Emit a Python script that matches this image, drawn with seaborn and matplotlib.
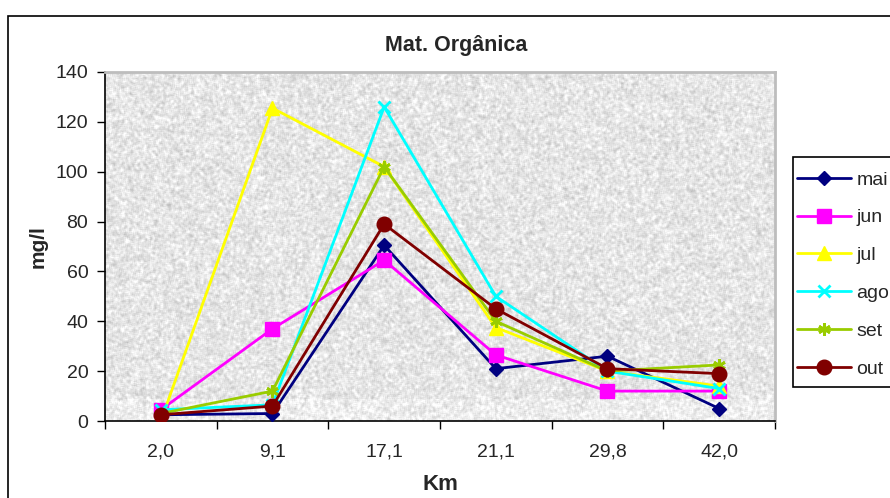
import numpy as np
import pandas as pd
import matplotlib
matplotlib.use("Agg")
import matplotlib.pyplot as plt
from matplotlib.patches import Rectangle
from matplotlib.lines import Line2D
import seaborn as sns

# Distance along the river (km) and monthly organic matter (mg/l)
km_labels = ["2,0", "9,1", "17,1", "21,1", "29,8", "42,0"]
months = ["mai", "jun", "jul", "ago", "set", "out"]
mai = [2.5, 3, 70.5, 21, 26, 5]
jun = [4.5, 37, 64.5, 26.5, 12, 12]
jul = [0, 125.5, 102, 37.5, 20, 14]
ago = [4.5, 6.5, 126, 50, 20, 13]
set_ = [3, 12, 102, 40, 20, 22.5]
out = [2.5, 6, 79, 45, 21, 19]
series = [mai, jun, jul, ago, set_, out]

colors = ["#000080", "#FF00FF", "#FFFF00", "#00FFFF", "#99CC00", "#800000"]
markers = ["D", "s", "^", "x", (6, 2, 0), "o"]
msizes = [7.5, 10, 9.5, 9, 9, 10.5]
medges = [1, 1, 1, 2, 2, 1]

df = pd.DataFrame({
    "km": np.tile(np.arange(len(km_labels)), len(months)),
    "valor": np.concatenate(series),
    "mes": np.repeat(months, len(km_labels)),
})

sns.set_theme(style="white")
plt.rcParams["font.family"] = ["Liberation Sans", "DejaVu Sans"]

fig = plt.figure(figsize=(8.9, 4.98), dpi=100)
ax = fig.add_axes([105 / 890, 1 - 421 / 498, 670 / 890, 349 / 498])

# granite-like grey texture for the plot area
rng = np.random.default_rng(7)
noise = rng.random((350, 670))
k = 1
pad = np.pad(noise, k, mode="wrap")
blur = np.zeros_like(noise)
for dy in range(-k, k + 1):
    for dx in range(-k, k + 1):
        blur += pad[k + dy:k + dy + noise.shape[0], k + dx:k + dx + noise.shape[1]]
blur /= (2 * k + 1) ** 2
blur = (blur - blur.mean()) / blur.std()
tex = np.clip(0.9 + 0.04 * blur, 0.72, 1.0)
tex[-22:, :] = np.clip(tex[-22:, :] + 0.03, 0, 1.0)
ax.imshow(tex, cmap="gray", vmin=0, vmax=1, extent=(-0.5, 5.5, 0, 140),
          aspect="auto", zorder=0, interpolation="bilinear")

for mes, c, m, ms, mew in zip(months, colors, markers, msizes, medges):
    sns.lineplot(data=df[df["mes"] == mes], x="km", y="valor",
                 color=c, marker=m, markersize=ms, markeredgewidth=mew,
                 markerfacecolor=c, markeredgecolor=c,
                 linewidth=2, legend=False, ax=ax, zorder=3)

ax.set_xlim(-0.5, 5.5)
ax.set_ylim(0, 140)
ax.set_yticks(np.arange(0, 141, 20))
ax.set_xticks(np.arange(len(km_labels)))
ax.set_xticklabels(km_labels)
ax.set_xticks(np.arange(-0.5, 6, 1), minor=True)
ax.tick_params(axis="x", which="major", length=0, labelsize=14, pad=16)
ax.tick_params(axis="x", which="minor", length=6, width=1, color="black", direction="out")
ax.tick_params(axis="y", which="major", length=6, width=1, color="black",
               direction="out", labelsize=14, pad=6)
ax.tick_params(left=True, bottom=True, which="both")

for side in ["left", "bottom"]:
    ax.spines[side].set_color("black")
    ax.spines[side].set_linewidth(1.2)
for side in ["top", "right"]:
    ax.spines[side].set_color("#bdbdbd")
    ax.spines[side].set_linewidth(2)

ax.set_xlabel("Km", fontsize=16, fontweight="bold", labelpad=10)
ax.set_ylabel("mg/l", fontsize=15, fontweight="bold", labelpad=6)
fig.text(456 / 890, 1 - 46 / 498, "Mat. Orgânica", ha="center", va="center",
         fontsize=15.5, fontweight="bold")

# outer chart border
fig.patches.append(Rectangle((8 / 890, -0.05), 1.0, 1 - 16 / 498 + 0.05,
                             transform=fig.transFigure, fill=False,
                             edgecolor="black", linewidth=1.2, zorder=0))

# legend frame, running past the right edge of the figure
fig.patches.append(Rectangle((793 / 890, 1 - 387 / 498), 0.2, 230 / 498,
                             transform=fig.transFigure, facecolor="white",
                             edgecolor="black", linewidth=1.2, zorder=1))

handles = [Line2D([0], [0], color=c, marker=m, markersize=ms,
                  markerfacecolor=c, markeredgecolor=c, linewidth=2,
                  markeredgewidth=mew)
           for c, m, ms, mew in zip(colors, markers, msizes, medges)]
leg = fig.legend(handles, months, loc="upper left",
                 bbox_to_anchor=(797 / 890, 1 - 171 / 498),
                 frameon=False, fontsize=14, handlelength=2.8,
                 labelspacing=1.04, borderpad=0, handletextpad=0.25,
                 borderaxespad=0)
leg.set_zorder(2)

fig.savefig("out.png", dpi=100)
